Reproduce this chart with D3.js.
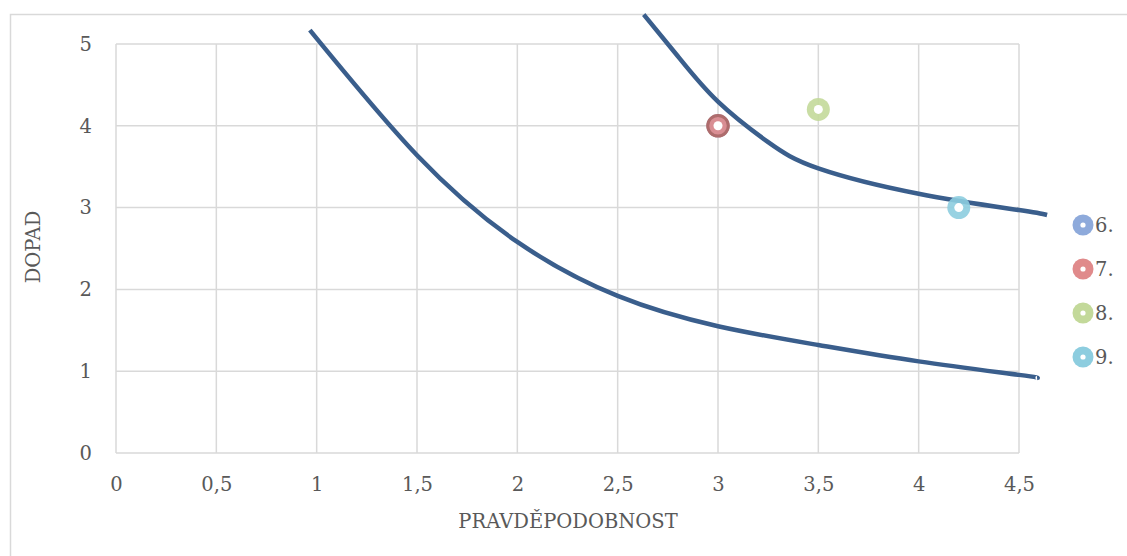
<!DOCTYPE html>
<html>
<head>
<meta charset="utf-8">
<script src="https://cdn.jsdelivr.net/npm/d3@7/dist/d3.min.js"></script>
<style>
  html, body { margin: 0; padding: 0; background: #fff; }
  svg { display: block; }
  text { font-family: "DejaVu Serif", "Liberation Serif", serif; fill: #595959; }
</style>
</head>
<body>
<svg id="chart" width="1127" height="556"></svg>
<script>
// Axis ticks
const xTicks = [0, 0.5, 1, 1.5, 2, 2.5, 3, 3.5, 4, 4.5];
const yTicks = [0, 1, 2, 3, 4, 5];
const xTitle = "PRAVDĚPODOBNOST";
const yTitle = "DOPAD";

// Boundary curves (pravděpodobnost, dopad)
const lowerX = [0.966, 1.5, 2.0, 2.5, 3.0, 3.5, 4.0, 4.5, 4.59];
const lowerY = [5.17, 3.64, 2.58, 1.92, 1.55, 1.32, 1.12, 0.955, 0.918];
const upperX = [2.63, 2.8, 3.0, 3.25, 3.5, 4.0, 4.5, 4.64];
const upperY = [5.36, 4.85, 4.295, 3.80, 3.48, 3.17, 2.97, 2.91];

// Risk points
const riskNames = ["6.", "7.", "8.", "9."];
const riskX = [3.0, 3.0, 3.5, 4.2];
const riskY = [4.0, 4.0, 4.2, 3.0];
const riskColors = ["#8eaadb", "#e08a8b", "#c3d99a", "#8dcddf"];

const svg = d3.select("#chart");
const plotL = 116, plotR = 1019, plotT = 44, plotB = 453;
const fontFamily = '"DejaVu Serif", "Liberation Serif", serif';

const x = d3.scaleLinear().domain([0, 4.5]).range([plotL, plotR]);
const y = d3.scaleLinear().domain([0, 5]).range([plotB, plotT]);

const grid = "#d9d9d9";

// Outer chart frame
svg.append("path")
  .attr("d", `M10.5,556 V14.5 H1127`)
  .attr("fill", "none").attr("stroke", grid).attr("stroke-width", 1.5);

// Gridlines
svg.append("g").selectAll("line").data(xTicks).join("line")
  .attr("x1", d => x(d)).attr("x2", d => x(d))
  .attr("y1", plotT).attr("y2", plotB)
  .attr("stroke", grid).attr("stroke-width", 1.5);
svg.append("g").selectAll("line").data(yTicks).join("line")
  .attr("x1", plotL).attr("x2", plotR)
  .attr("y1", d => y(d)).attr("y2", d => y(d))
  .attr("stroke", grid).attr("stroke-width", 1.5);

// Tick labels via d3 axes, without domain and tick lines
const fmt = d3.formatLocale({ decimal: ",", thousands: " ", grouping: [3], currency: ["", ""] }).format("~g");
const xAxis = svg.append("g").attr("transform", `translate(0,${plotB})`)
  .call(d3.axisBottom(x).tickValues(xTicks).tickFormat(fmt).tickSize(0).tickPadding(24));
const yAxis = svg.append("g").attr("transform", `translate(${plotL},0)`)
  .call(d3.axisLeft(y).tickValues(yTicks).tickFormat(fmt).tickSize(0).tickPadding(24));
[xAxis, yAxis].forEach(g => {
  g.select(".domain").remove();
  g.selectAll("text").style("font-family", fontFamily)
    .style("font-size", "19.5px").attr("fill", "#595959");
});

// Axis titles
svg.append("text").attr("x", 568).attr("y", 528)
  .attr("text-anchor", "middle").style("font-size", "19.5px").text(xTitle);
svg.append("text").attr("transform", `translate(40,247) rotate(-90)`)
  .attr("text-anchor", "middle").style("font-size", "19.5px").text(yTitle);

// Curves
const line = d3.line().x(d => x(d[0])).y(d => y(d[1])).curve(d3.curveNatural);
[[lowerX, lowerY], [upperX, upperY]].forEach(([xs, ys]) => {
  svg.append("path")
    .datum(xs.map((v, i) => [v, ys[i]]))
    .attr("d", line)
    .attr("fill", "none").attr("stroke", "#3a5e8c").attr("stroke-width", 4.5);
});

// Risk markers: ring with white centre
const pts = riskNames.map((n, i) => ({ n, x: riskX[i], y: riskY[i], c: riskColors[i], i }));
const mk = svg.append("g");
pts.forEach(p => {
  const g = mk.append("g").attr("transform", `translate(${x(p.x)},${y(p.y)})`);
  g.append("circle").attr("r", 11.5)
    .attr("fill", p.c).attr("fill-opacity", 0.9);
  if (p.i === 1) {
    g.append("circle").attr("r", 10.3).attr("fill", "none")
      .attr("stroke", d3.color(p.c).darker(0.8)).attr("stroke-width", 3).attr("stroke-opacity", 0.9);
  }
  g.append("circle").attr("r", 4.5).attr("fill", "#fff");
});

// Legend
const leg = svg.append("g");
pts.forEach((p, i) => {
  const cy = 225 + i * 44;
  leg.append("circle").attr("cx", 1083).attr("cy", cy).attr("r", 10.5).attr("fill", p.c);
  leg.append("circle").attr("cx", 1083).attr("cy", cy).attr("r", 2.6).attr("fill", "#fff");
  leg.append("text").attr("x", 1095).attr("y", cy + 7).style("font-size", "19.5px").text(p.n);
});
</script>
</body>
</html>
